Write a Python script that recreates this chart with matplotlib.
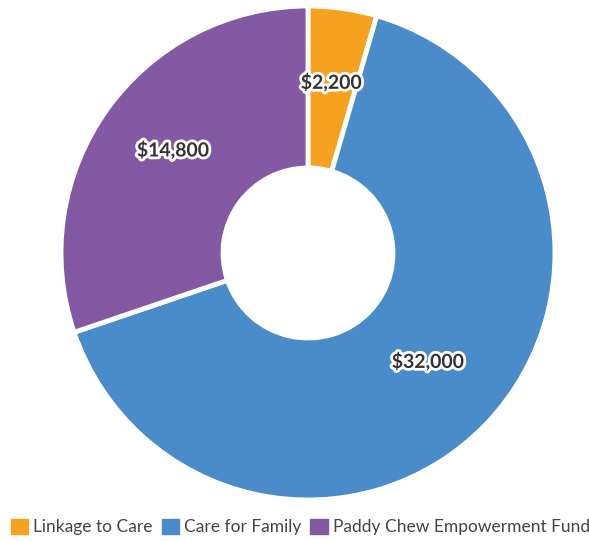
import matplotlib.pyplot as plt
import matplotlib.patheffects as pe
from matplotlib.patches import Patch
import numpy as np

labels = ["Linkage to Care", "Care for Family", "Paddy Chew Empowerment Fund"]
amounts = [2200, 32000, 14800]
colors = ["#F7A21E", "#4A8BC9", "#8459A3"]

plt.rcParams['font.family'] = ['Lato', 'DejaVu Sans']

fig = plt.figure(figsize=(5.89, 5.41), dpi=100)
ax = fig.add_axes([61/589, 41/541, 494/589, 494/541])

wedges, _ = ax.pie(amounts, colors=colors, startangle=90, counterclock=False,
                   radius=1.0,
                   wedgeprops=dict(width=1 - 85/247, edgecolor='white',
                                   linewidth=3.5, joinstyle='round'))

# amount labels in the middle of the ring
total = sum(amounts)
r_mid = (1 + 85/247) / 2
start = 90.0
for val in amounts:
    span = val / total * 360
    mid = np.deg2rad(start - span / 2)
    start -= span
    ax.text(r_mid * np.cos(mid), r_mid * np.sin(mid) + 0.025, f"${val:,}",
            ha='center', va='center', fontsize=14, fontweight='bold',
            color='#333333',
            path_effects=[pe.withStroke(linewidth=4, foreground='white')])

ax.set_xlim(-1, 1)
ax.set_ylim(-1, 1)
ax.set_aspect('equal')
ax.axis('off')

handles = [Patch(facecolor=c, edgecolor=c, label=l) for c, l in zip(colors, labels)]
fig.legend(handles=handles, loc='center', bbox_to_anchor=(0.51, 14/541),
           ncol=3, frameon=False, fontsize=12.5, handlelength=1.0,
           handleheight=1.0, handletextpad=0.3, columnspacing=0.5,
           labelcolor='#444444')

fig.savefig("out.png", dpi=100)
